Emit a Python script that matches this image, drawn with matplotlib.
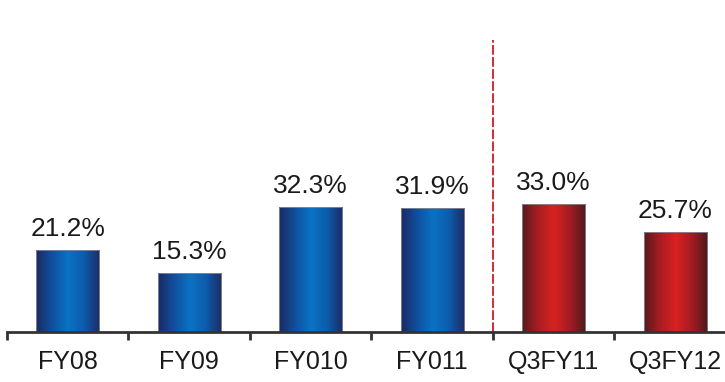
import numpy as np
import matplotlib
matplotlib.use('Agg')
import matplotlib.pyplot as plt
from matplotlib.colors import LinearSegmentedColormap

# data
categories = ['FY08', 'FY09', 'FY010', 'FY011', 'Q3FY11', 'Q3FY12']
values = [21.2, 15.3, 32.3, 31.9, 33.0, 25.7]
labels = ['21.2%', '15.3%', '32.3%', '31.9%', '33.0%', '25.7%']
groups = ['annual', 'annual', 'annual', 'annual', 'quarter', 'quarter']

plt.rcParams['font.family'] = ['Liberation Sans', 'DejaVu Sans']

# gradient across the bar width: dark edges, bright middle
blue_cmap = LinearSegmentedColormap.from_list(
    'blue_bar', ['#1b2a62', '#104f9e', '#0a73c4', '#0d5cac', '#1d2b63'])
red_cmap = LinearSegmentedColormap.from_list(
    'red_bar', ['#561a1c', '#a81d22', '#d8221f', '#a31c22', '#4e191c'])
cmaps = {'annual': blue_cmap, 'quarter': red_cmap}

fig = plt.figure(figsize=(7.25, 3.82), dpi=100)
ax = fig.add_axes([7 / 725, 50 / 382, 718 / 725, 292 / 382])

x = np.arange(len(categories))
bars = ax.bar(x, values, width=0.52, facecolor='none', edgecolor='none', zorder=2)

grad = np.linspace(0, 1, 256).reshape(1, -1)
for rect, grp in zip(bars, groups):
    x0, y0 = rect.get_x(), rect.get_y()
    w, h = rect.get_width(), rect.get_height()
    im = ax.imshow(grad, cmap=cmaps[grp], aspect='auto',
                   extent=(x0, x0 + w, y0, y0 + h), zorder=2)
    im.set_clip_path(rect)
    ax.add_patch(plt.Rectangle((x0, y0), w, h, facecolor='none',
                               edgecolor='#8a8a9a', linewidth=0.6, zorder=3))

for xi, v, lab in zip(x, values, labels):
    ax.annotate(lab, (xi, v), xytext=(0, 10), textcoords='offset points',
                ha='center', va='baseline', fontsize=19, color='#1a1a1a')

# dashed separator between annual and quarterly figures
ax.axvline(3.5, ymin=0, ymax=1, color='#d42a36', linestyle=(0, (5, 1.2)),
           linewidth=1.4, zorder=1)

ax.set_xlim(-0.5, 5.41)
ax.set_ylim(0, 75.2)

for side in ['left', 'right', 'top']:
    ax.spines[side].set_visible(False)
ax.spines['bottom'].set_color('#333333')
ax.spines['bottom'].set_linewidth(2)
ax.spines['bottom'].set_zorder(4)

ax.set_yticks([])
ax.set_xticks(x)
ax.set_xticklabels(categories, fontsize=18, color='#1a1a1a')
ax.tick_params(axis='x', which='major', length=0, pad=13)
ax.set_xticks(np.arange(-0.5, 5.0, 1.0), minor=True)
ax.tick_params(axis='x', which='minor', length=6, width=2, color='#333333',
               direction='out')

fig.savefig('out.png', dpi=100)
